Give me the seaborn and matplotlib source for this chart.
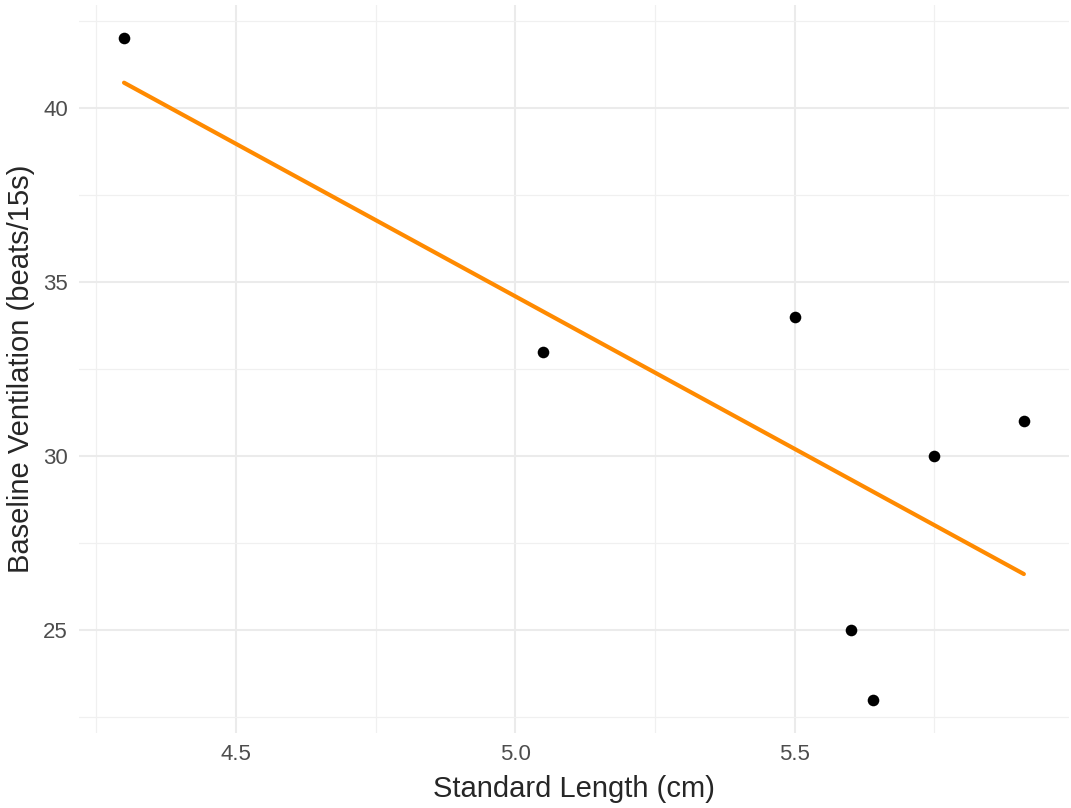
import matplotlib
matplotlib.use("Agg")
import matplotlib.pyplot as plt
import numpy as np
import pandas as pd
import seaborn as sns

sns.set_style("white")
plt.rcParams['font.family'] = ['Liberation Sans', 'DejaVu Sans']

# values
standard_length = [4.30, 5.05, 5.50, 5.60, 5.64, 5.75, 5.91]
baseline_vent = [42, 33, 34, 25, 23, 30, 31]
x_ticks = [4.5, 5.0, 5.5]
y_ticks = [25, 30, 35, 40]

df = pd.DataFrame({'length': standard_length, 'vent': baseline_vent})

fig = plt.figure(figsize=(10.71, 8.08), dpi=100)
ax = fig.add_axes([0.0738, 0.0928, 0.998 - 0.0738, 0.994 - 0.0928])

# ggplot style 5% expansion
xr = max(standard_length) - min(standard_length)
yr = max(baseline_vent) - min(baseline_vent)
ax.set_xlim(min(standard_length) - 0.05 * xr, max(standard_length) + 0.05 * xr)
ax.set_ylim(min(baseline_vent) - 0.05 * yr, max(baseline_vent) + 0.05 * yr)

ax.set_xticks(x_ticks)
ax.set_yticks(y_ticks)
ax.set_xticks([4.25, 4.75, 5.25, 5.75], minor=True)
ax.set_yticks([22.5, 27.5, 32.5, 37.5, 42.5], minor=True)
ax.grid(True, which='major', color='#EBEBEB', linewidth=1.5)
ax.grid(True, which='minor', color='#F0F0F0', linewidth=0.9)
ax.set_axisbelow(True)

sns.regplot(data=df, x='length', y='vent', ax=ax, ci=None, truncate=True,
            scatter_kws={'color': 'black', 's': 70, 'alpha': 1, 'linewidths': 0, 'zorder': 3},
            line_kws={'color': '#FF8A00', 'linewidth': 3, 'zorder': 2})

ax.set_xticklabels(['4.5', '5.0', '5.5'])
ax.tick_params(which='both', length=0, pad=8, labelsize=16, labelcolor='#4D4D4D')
for s in ax.spines.values():
    s.set_visible(False)

ax.set_xlabel('Standard Length (cm)', fontsize=21, labelpad=7)
ax.set_ylabel('Baseline Ventilation (beats/15s)', fontsize=21, labelpad=6)

fig.savefig('out.png', dpi=100)
